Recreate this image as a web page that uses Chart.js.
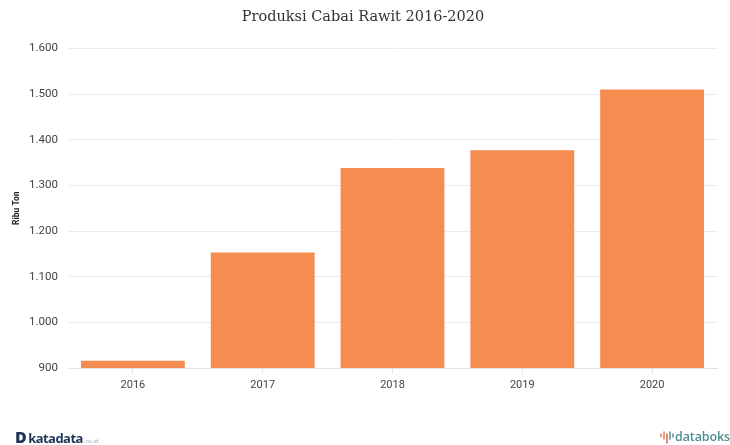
<!DOCTYPE html>
<html>
<head>
<meta charset="utf-8">
<style>
  html, body { margin: 0; padding: 0; background: #fff; }
  #wrap { position: relative; width: 730px; height: 445px; overflow: hidden; }
  #c { position: absolute; left: 0; top: 0; }
  .brand { position: absolute; white-space: nowrap; font-family: "Open Sans", sans-serif; font-weight: 700; line-height: 16px; }
  #kd { left: 15px; top: 429px; font-size: 13px; color: #1d3557; letter-spacing: -0.55px; }
  #kd b { font-size: 16px; font-weight: 800; margin-right: 2px; }
  #kd small { font-size: 6px; font-weight: 400; color: #9aa5b1; letter-spacing: 0; margin-left: 1px; }
  #db { left: 675px; top: 429px; font-size: 12.5px; font-weight: 600; color: #4f8f93; letter-spacing: -0.1px; }
  #db-mark { position: absolute; left: 660px; top: 431px; width: 14px; height: 13px; }
</style>
</head>
<body>
<div id="wrap">
  <canvas id="c" width="730" height="445"></canvas>
  <div class="brand" id="kd"><b>D</b>katadata<small>.co.id</small></div>
  <svg id="db-mark" viewBox="0 0 14 13">
    <g fill="none" stroke-width="1.5" stroke-linecap="round">
      <path d="M1 3v3" stroke="#e8805a"/>
      <path d="M4 1v7" stroke="#e8805a"/>
      <path d="M7 3v9" stroke="#d9694f"/>
      <path d="M10 1v7" stroke="#4f8f93"/>
      <path d="M13 3v3" stroke="#4f8f93"/>
    </g>
  </svg>
  <div class="brand" id="db">databoks</div>
</div>
<script src="https://cdn.jsdelivr.net/npm/chart.js@4/dist/chart.umd.min.js"></script>
<script>
const years = ['2016', '2017', '2018', '2019', '2020'];
const production = [916, 1153, 1338, 1377, 1510];
const yTicks = [900, 1000, 1100, 1200, 1300, 1400, 1500, 1600];
const chartTitle = 'Produksi Cabai Rawit 2016-2020';
const yAxisTitle = 'Ribu Ton';

const dotted = v => String(v).replace(/\B(?=(\d{3})+$)/g, '.');

new Chart(document.getElementById('c'), {
  type: 'bar',
  data: {
    labels: years,
    datasets: [{
      data: production,
      yAxisID: 'y',
      backgroundColor: '#F58C50',
      borderWidth: 0,
      barPercentage: 0.8,
      categoryPercentage: 1
    }]
  },
  options: {
    responsive: false,
    animation: false,
    layout: { padding: { left: 0, right: 4, top: 0, bottom: 0 } },
    plugins: {
      legend: { display: false },
      tooltip: { enabled: false },
      title: {
        display: true,
        text: chartTitle,
        color: '#333333',
        font: { family: '"DejaVu Serif", serif', size: 14.5, weight: 'normal' },
        padding: { top: 9, bottom: 22 }
      }
    },
    scales: {
      x: {
        grid: { display: true, drawOnChartArea: false, offset: false, color: '#e3e3e3', tickLength: 5 },
        border: { color: '#e3e3e3', width: 1 },
        ticks: {
          color: '#444444',
          font: { family: 'Roboto, sans-serif', size: 11 },
          padding: 6
        },
        afterFit(axis) { axis.height = 77; }
      },
      y: {
        min: 900,
        max: 1600,
        afterBuildTicks(axis) { axis.ticks = yTicks.map(value => ({ value })); },
        grid: { color: '#ececec', lineWidth: 1, drawTicks: false },
        border: { display: false },
        ticks: {
          color: '#444444',
          font: { family: 'Roboto, sans-serif', size: 11.5 },
          padding: 10,
          callback: v => dotted(v)
        },
        title: {
          display: true,
          text: yAxisTitle,
          color: '#222222',
          font: { family: 'Roboto, sans-serif', size: 8.5, weight: 'bold' },
          padding: { top: 12, bottom: 0 }
        },
        afterFit(axis) { axis.width = 68; }
      },
      // Empty right-hand gutter so the title stays centred on the page, not the plot
      gutter: {
        position: 'right',
        grid: { display: false },
        border: { display: false },
        ticks: { display: false },
        afterFit(axis) { axis.width = 9; }
      }
    }
  }
});
</script>
</body>
</html>
